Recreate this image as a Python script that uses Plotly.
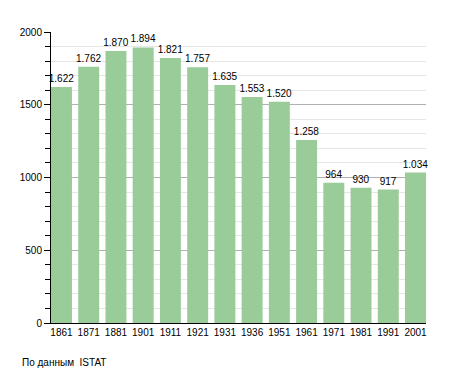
import plotly.graph_objects as go

years = ["1861", "1871", "1881", "1901", "1911", "1921", "1931", "1936", "1951", "1961", "1971", "1981", "1991", "2001"]
population = [1622, 1762, 1870, 1894, 1821, 1757, 1635, 1553, 1520, 1258, 964, 930, 917, 1034]
labels = [f"{v:,}".replace(",", ".") for v in population]
y_ticks = [0, 500, 1000, 1500, 2000]

FONT = "Liberation Sans, Arial, sans-serif"

fig = go.Figure()
fig.add_trace(go.Bar(
    x=list(range(len(years))), y=population,
    marker=dict(color="#99cc99", line=dict(width=0)),
    width=0.77,
    text=labels, textposition="outside", cliponaxis=False,
    textfont=dict(family=FONT, size=10, color="black"),
))

# page body adds an 8px offset, so the figure is sized 8px smaller
fig.update_layout(
    width=447, height=365,
    margin=dict(l=43, r=29, t=24, b=50),
    plot_bgcolor="white", paper_bgcolor="white",
    showlegend=False,
    font=dict(family=FONT, size=10, color="black"),
    uniformtext=dict(minsize=10, mode="show"),
)
fig.update_xaxes(
    range=[-0.385, 13.385],
    tickmode="array", tickvals=list(range(len(years))), ticktext=years,
    showline=True, linecolor="black", linewidth=1,
    showgrid=False, ticks="", zeroline=False,
)
fig.update_yaxes(
    range=[0, 2000],
    tickmode="array", tickvals=y_ticks,
    showline=True, linecolor="black", linewidth=1,
    showgrid=True, gridcolor="#b0b0b0", gridwidth=1,
    ticks="outside", ticklen=6, tickcolor="black",
    minor=dict(dtick=100, showgrid=True, gridcolor="#e6e6e6", ticks="outside", ticklen=5, tickcolor="black"),
    zeroline=False,
)
fig.add_annotation(
    text="По данным  ISTAT", xref="paper", yref="paper",
    x=-31/375, y=-39/291, xanchor="left", yanchor="middle",
    showarrow=False, font=dict(family=FONT, size=10, color="black"),
)
fig.write_html("out.html")
